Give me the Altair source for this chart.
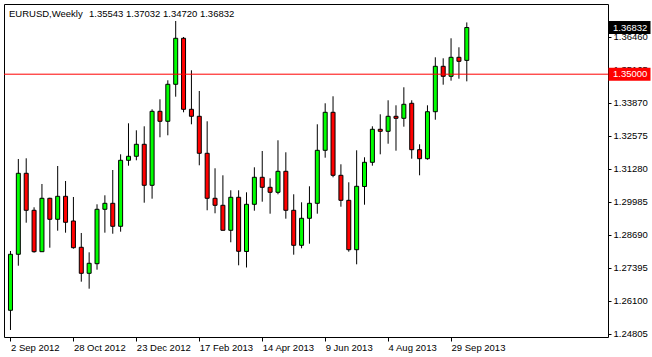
import altair as alt
import pandas as pd

# Weekly EURUSD candles, first candle = week of 2 Sep 2012
opens = [1.25734, 1.27932, 1.31111, 1.29659, 1.28034, 1.30130, 1.29306, 1.30208, 1.29239, 1.28207,
         1.27186, 1.27563, 1.29698, 1.29933, 1.29031, 1.31621, 1.31778, 1.32249, 1.30640, 1.33544,
         1.33152, 1.34604, 1.36409, 1.33622, 1.33348, 1.31896, 1.30130, 1.29855, 1.28874, 1.30169,
         1.28042, 1.29894, 1.30954, 1.30561, 1.30365, 1.31189, 1.29659, 1.28285, 1.29345, 1.29933,
         1.32013, 1.33505, 1.31032, 1.30051, 1.28112, 1.30593, 1.31542, 1.32838, 1.32759, 1.33348,
         1.33269, 1.33858, 1.32037, 1.31684, 1.33528, 1.35310, 1.34918, 1.35663, 1.35543]
highs = [1.28061, 1.31672, 1.31699, 1.29776, 1.30691, 1.30150, 1.31397, 1.30809, 1.30181, 1.28768,
         1.28010, 1.29894, 1.30247, 1.31240, 1.31856, 1.33073, 1.32798, 1.32955, 1.33622, 1.34015,
         1.34761, 1.37088, 1.36460, 1.35153, 1.34341, 1.33152, 1.31307, 1.31032, 1.30444, 1.30444,
         1.30365, 1.31346, 1.31986, 1.30915, 1.32406, 1.31935, 1.30287, 1.29973, 1.30601, 1.33034,
         1.33858, 1.34133, 1.31464, 1.30758, 1.32013, 1.31739, 1.32955, 1.33426, 1.33976, 1.33779,
         1.34486, 1.33976, 1.32249, 1.33779, 1.35663, 1.35624, 1.36409, 1.36056, 1.37032]
lows = [1.24961, 1.27484, 1.29172, 1.27995, 1.28034, 1.28191, 1.28858, 1.28780, 1.28152, 1.26857,
        1.26582, 1.27328, 1.28780, 1.28740, 1.28819, 1.31409, 1.31621, 1.29957, 1.30114, 1.32524,
        1.32602, 1.34117, 1.33505, 1.33034, 1.31425, 1.29659, 1.29541, 1.28874, 1.28403, 1.27500,
        1.27414, 1.29643, 1.29996, 1.29525, 1.30287, 1.29329, 1.27916, 1.28167, 1.28348, 1.29525,
        1.31723, 1.30954, 1.29800, 1.28034, 1.27539, 1.29878, 1.31409, 1.31856, 1.32272, 1.31998,
        1.32940, 1.31684, 1.31032, 1.31645, 1.33214, 1.34588, 1.34745, 1.34823, 1.34720]
closes = [1.27932, 1.31111, 1.29659, 1.28034, 1.30130, 1.29306, 1.30208, 1.29188, 1.28191, 1.27186,
          1.27579, 1.29698, 1.29933, 1.29031, 1.31621, 1.31778, 1.32249, 1.30640, 1.33544, 1.33152,
          1.34604, 1.36409, 1.33622, 1.33348, 1.31896, 1.30130, 1.29855, 1.28874, 1.30169, 1.28050,
          1.29894, 1.30954, 1.30561, 1.30365, 1.31189, 1.29659, 1.28285, 1.29345, 1.29933, 1.32013,
          1.33505, 1.31032, 1.30051, 1.28112, 1.30601, 1.31542, 1.32838, 1.32759, 1.33348, 1.33269,
          1.33819, 1.32037, 1.31684, 1.33528, 1.35310, 1.34918, 1.35663, 1.35506, 1.36832]

week_labels = ["2 Sep 2012", "28 Oct 2012", "23 Dec 2012", "17 Feb 2013",
               "14 Apr 2013", "9 Jun 2013", "4 Aug 2013", "29 Sep 2013"]
label_step = 8
y_ticks = [1.24805, 1.26100, 1.27395, 1.28690, 1.29985, 1.31280, 1.32575, 1.33870, 1.35165, 1.36460]

level_price = 1.35000
last_price = 1.36832
title_symbol = "EURUSD,Weekly"
title_values = "1.35543 1.37032 1.34720 1.36832"

FONT = "Liberation Sans"
FS = 9.5

n = len(opens)
df = pd.DataFrame({"i": list(range(n)), "open": opens, "high": highs,
                   "low": lows, "close": closes})
df["dir"] = ["up" if c > o else "down" for o, c in zip(opens, closes)]

xscale = alt.Scale(domain=[-0.1875, 75.3125], nice=False, zero=False)
yscale = alt.Scale(domain=[1.24686, 1.37755], nice=False, zero=False)

label_expr = "[" + ",".join("'%s'" % s for s in week_labels) + "][round(datum.value/%d)]" % label_step
x_axis = alt.Axis(values=[k * label_step for k in range(len(week_labels))], labelExpr=label_expr,
                  labelAlign="left", tickSize=4, tickColor="black", labelPadding=1,
                  domain=False, grid=False, title=None, labelFont=FONT, labelFontSize=FS,
                  labelColor="black", labelOverlap=False, labelBound=False, labelFlush=False)
y_axis = alt.Axis(orient="right", values=y_ticks, format=".5f", tickSize=3, tickColor="black",
                  labelPadding=2, domain=False, grid=False, title=None, labelFont=FONT,
                  labelFontSize=FS, labelColor="black", labelOverlap=False, labelBound=False)

base = alt.Chart(df)
wicks = base.mark_rule(color="black", strokeWidth=1).encode(
    x=alt.X("i:Q", scale=xscale, axis=x_axis),
    y=alt.Y("low:Q", scale=yscale, axis=y_axis),
    y2="high:Q",
)
bodies = base.mark_bar(size=4, stroke="black", strokeWidth=1, opacity=1).encode(
    x=alt.X("i:Q", scale=xscale, axis=x_axis),
    y=alt.Y("open:Q", scale=yscale, axis=y_axis),
    y2="close:Q",
    color=alt.Color("dir:N", scale=alt.Scale(domain=["up", "down"], range=["#00ff00", "#ff0000"]),
                    legend=None),
)

lvl_df = pd.DataFrame({"p": [level_price]})
level_line = alt.Chart(lvl_df).mark_rule(color="#ff0000", strokeWidth=1).encode(
    y=alt.Y("p:Q", scale=yscale, axis=y_axis)
)

box_df = pd.DataFrame({"p": [last_price, level_price],
                       "bg": ["black", "#ff0000"],
                       "txt": ["%.5f" % last_price, "%.5f" % level_price]})
boxes = alt.Chart(box_df).mark_tick(orient="horizontal", thickness=13, size=42, opacity=1,
                                    clip=False).encode(
    y=alt.Y("p:Q", scale=yscale, axis=y_axis),
    x=alt.value(625.5),
    color=alt.Color("bg:N", scale=None),
)
box_text = alt.Chart(box_df).mark_text(align="left", baseline="middle", color="white",
                                       font=FONT, fontSize=FS).encode(
    y=alt.Y("p:Q", scale=yscale, axis=y_axis),
    x=alt.value(609),
    text="txt:N",
)

title1 = alt.Chart(pd.DataFrame({"t": [title_symbol]})).mark_text(
    align="left", baseline="middle", font=FONT, fontSize=FS, color="black").encode(
    x=alt.value(5), y=alt.value(9.5), text="t:N")
title2 = alt.Chart(pd.DataFrame({"t": [title_values]})).mark_text(
    align="left", baseline="middle", font=FONT, fontSize=FS, color="black").encode(
    x=alt.value(85), y=alt.value(9.5), text="t:N")

chart = alt.layer(wicks, bodies, level_line, boxes, box_text, title1, title2).properties(
    width=604, height=333,
    padding={"left": 4, "top": 4, "right": 44, "bottom": 20},
    autosize=alt.AutoSizeParams(type="none"),
    background="white",
).configure_view(stroke="black", strokeWidth=1)

chart.save("out.html", embed_options={"renderer": "svg", "actions": False})
